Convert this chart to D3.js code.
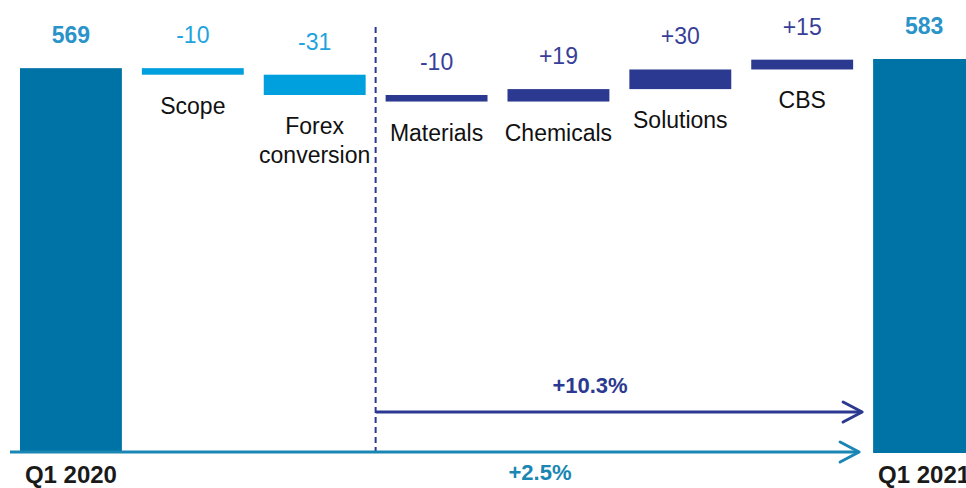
<!DOCTYPE html>
<html>
<head>
<meta charset="utf-8">
<script src="https://cdn.jsdelivr.net/npm/d3@7"></script>
<style>
  body { margin: 0; background: #fff; }
  svg { display: block; font-family: "Liberation Sans", Arial, sans-serif; }
</style>
</head>
<body>
<svg id="chart" width="966" height="488"></svg>
<script>
// Data
const categories = ["Q1 2020", "Scope", "Forex conversion", "Materials", "Chemicals", "Solutions", "CBS", "Q1 2021"];
const kinds = ["total", "scope", "scope", "ops", "ops", "ops", "ops", "total"];
const values = [569, -10, -31, -10, 19, 30, 15, 583];
const growthLabels = ["+10.3%", "+2.5%"];

const width = 966, height = 488;
const bottom = 453;

const svg = d3.select("#chart");

const x = d3.scaleBand()
    .domain(categories)
    .range([10, 985])
    .paddingInner(0.164)
    .paddingOuter(0.082);

// axis floor sits a bit below zero so the totals look like the reference
const y = d3.scaleLinear().domain([-19, 583]).range([bottom, 59]);

const barFill = { total: "#0073a6", scope: "#00a0df", ops: "#2b3990" };
const valueFill = { total: "#2a93c9", scope: "#1ea3de", ops: "#393f98" };

// Compute waterfall steps
let running = 0;
const steps = categories.map((c, i) => {
    const v = values[i];
    let y0, y1;
    if (kinds[i] === "total") { y0 = y.domain()[0]; y1 = v; running = v; }
    else { y0 = running; y1 = running + v; running = y1; }
    return { name: c, kind: kinds[i], value: v, lo: Math.min(y0, y1), hi: Math.max(y0, y1) };
});

const fmt = d => d.kind === "total" ? String(d.value) : (d.value > 0 ? "+" : "") + d.value;

// dashed separator between scope effects and operational changes
const sepX = x("Materials") - x.step() * x.paddingInner() / 2;
svg.append("line")
    .attr("x1", sepX).attr("x2", sepX)
    .attr("y1", 27).attr("y2", bottom)
    .attr("stroke", "#2b3990")
    .attr("stroke-width", 2)
    .attr("stroke-dasharray", "6,4");

// Bars
svg.append("g")
    .selectAll("rect")
    .data(steps)
    .join("rect")
    .attr("x", d => x(d.name))
    .attr("width", x.bandwidth())
    .attr("y", d => y(d.hi))
    .attr("height", d => Math.max(1, y(d.lo) - y(d.hi)))
    .attr("fill", d => barFill[d.kind]);

// Value labels
svg.append("g")
    .attr("text-anchor", "middle")
    .selectAll("text")
    .data(steps)
    .join("text")
    .attr("x", d => x(d.name) + x.bandwidth() / 2)
    .attr("y", d => y(d.hi) - 25)
    .attr("font-size", 23)
    .attr("font-weight", d => d.kind === "total" ? "bold" : "normal")
    .attr("fill", d => valueFill[d.kind])
    .text(fmt);

// Category labels under the floating bars
const catLabels = svg.append("g")
    .attr("text-anchor", "middle")
    .selectAll("text")
    .data(steps.filter(d => d.kind !== "total"))
    .join("text")
    .attr("x", d => x(d.name) + x.bandwidth() / 2)
    .attr("y", d => y(d.lo) + 39)
    .attr("font-size", 23)
    .attr("fill", "#111");

catLabels.each(function(d) {
    const words = d.name === "Forex conversion" ? ["Forex", "conversion"] : [d.name];
    d3.select(this).selectAll("tspan")
        .data(words)
        .join("tspan")
        .attr("x", x(d.name) + x.bandwidth() / 2)
        .attr("dy", (w, i) => i === 0 ? 0 : 29)
        .text(w => w);
});

// Period labels under totals
svg.append("g")
    .attr("text-anchor", "middle")
    .selectAll("text")
    .data(steps.filter(d => d.kind === "total"))
    .join("text")
    .attr("x", d => x(d.name) + x.bandwidth() / 2)
    .attr("y", bottom + 30)
    .attr("font-size", 24)
    .attr("font-weight", "bold")
    .attr("fill", "#1a1a1a")
    .text(d => d.name);

// Growth arrows
const endX = x("Q1 2021") - 11;
const arrows = [
    { label: growthLabels[0], x0: sepX, y: bottom - 41, color: "#2b3990", lx: 590, ly: bottom - 60 },
    { label: growthLabels[1], x0: x("Q1 2020") - 10, y: bottom - 1, color: "#1a86b4", lx: 540, ly: bottom + 27, tip: -3 }
];

arrows.forEach(a => {
    const tipX = endX + (a.tip || 0);
    const g = svg.append("g").attr("fill", "none").attr("stroke", a.color).attr("stroke-width", 3);
    g.append("line").attr("x1", a.x0).attr("x2", tipX).attr("y1", a.y).attr("y2", a.y);
    g.append("path")
        .attr("stroke-linecap", "round")
        .attr("stroke-linejoin", "round")
        .attr("d", d3.line()([[tipX - 19, a.y - 10], [tipX, a.y], [tipX - 19, a.y + 10]]));
    svg.append("text")
        .attr("x", a.lx)
        .attr("y", a.ly)
        .attr("text-anchor", "middle")
        .attr("font-size", 22)
        .attr("font-weight", "bold")
        .attr("fill", a.color)
        .text(a.label);
});
</script>
</body>
</html>
